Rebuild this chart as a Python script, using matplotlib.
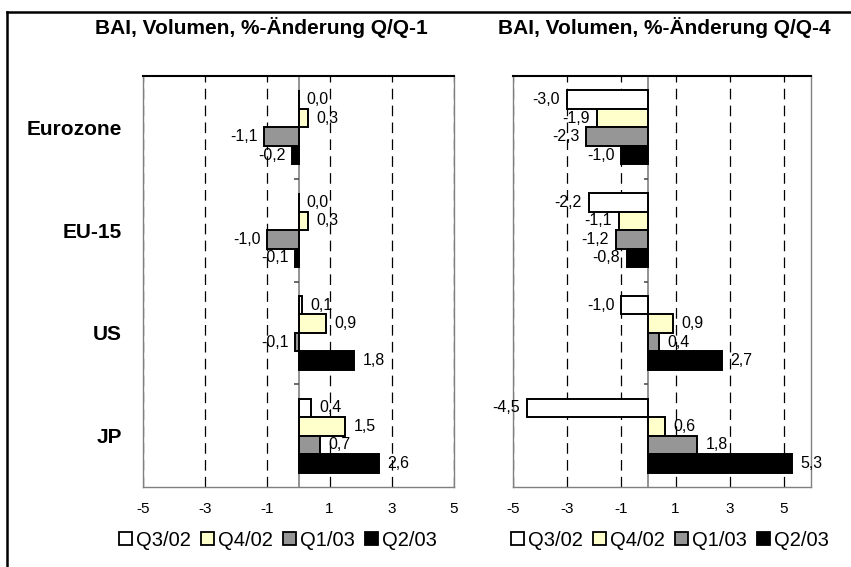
import matplotlib
matplotlib.use('Agg')
import matplotlib.pyplot as plt
from matplotlib.patches import Patch
from matplotlib.lines import Line2D

plt.rcParams['font.family'] = ['Liberation Sans', 'DejaVu Sans']

# Daten
laender = ['Eurozone', 'EU-15', 'US', 'JP']
quartale = ['Q3/02', 'Q4/02', 'Q1/03', 'Q2/03']
farben = ['#FFFFFF', '#FFFFCC', '#969696', '#000000']

# BAI, Volumen, %-Aenderung Q/Q-1 (je Land: Q3/02, Q4/02, Q1/03, Q2/03)
qq1_eurozone = [0.0, 0.3, -1.1, -0.2]
qq1_eu15 = [0.0, 0.3, -1.0, -0.1]
qq1_us = [0.1, 0.9, -0.1, 1.8]
qq1_jp = [0.4, 1.5, 0.7, 2.6]

# BAI, Volumen, %-Aenderung Q/Q-4
qq4_eurozone = [-3.0, -1.9, -2.3, -1.0]
qq4_eu15 = [-2.2, -1.1, -1.2, -0.8]
qq4_us = [-1.0, 0.9, 0.4, 2.7]
qq4_jp = [-4.5, 0.6, 1.8, 5.3]

x_ticks = [-5, -3, -1, 1, 3, 5]

W, H = 851, 567
fig = plt.figure(figsize=(W / 100, H / 100), dpi=100)


def zeichne(ax, werte, xmax, tick_len, mit_labels):
    bar_h = 0.18
    for i, land_werte in enumerate(werte):
        for j, v in enumerate(land_werte):
            y = i + 0.5 + (j - 1.5) * bar_h
            ax.barh(y, v, height=bar_h, left=0, color=farben[j],
                    edgecolor='black', linewidth=1.4, zorder=3)
            txt = ('%.1f' % v).replace('.', ',')
            if v >= 0:
                ax.annotate(txt, (v, y), xytext=(6, 0), textcoords='offset points',
                            ha='left', va='center', fontsize=11.5, zorder=4)
            else:
                ax.annotate(txt, (v, y), xytext=(-5, 0), textcoords='offset points',
                            ha='right', va='center', fontsize=11.5, zorder=4)

    ax.set_xlim(-5, xmax)
    ax.set_ylim(len(werte), 0)
    ax.set_xticks(x_ticks)
    ax.set_xticklabels([str(t) for t in x_ticks], fontsize=11)
    ax.tick_params(axis='x', length=0, pad=11)
    for t in x_ticks:
        ax.axvline(t, color='black', linewidth=0.9, dashes=(8.5, 5), zorder=1)
    ax.axvline(0, color='#808080', linewidth=1.2, zorder=2)
    # Trennstriche zwischen den Laendergruppen auf der Nullachse
    ax.hlines(range(1, len(werte)), -tick_len, 0, color='#505050', linewidth=1.2, zorder=2)

    if mit_labels:
        ax.set_yticks([i + 0.5 for i in range(len(werte))])
        ax.set_yticklabels(laender, fontsize=15, fontweight='bold')
        ax.tick_params(axis='y', length=0, pad=15)
    else:
        ax.set_yticks([])

    for s in ['left', 'right', 'bottom']:
        ax.spines[s].set_color('#808080')
        ax.spines[s].set_linewidth(1.0)
    ax.spines['top'].set_color('black')
    ax.spines['top'].set_linewidth(1.5)


ax1 = fig.add_axes([143 / W, 1 - 487 / H, 311 / W, 411 / H])
zeichne(ax1, [qq1_eurozone, qq1_eu15, qq1_us, qq1_jp], 5, 0.16, True)

ax2 = fig.add_axes([513 / W, 1 - 487 / H, 298 / W, 411 / H])
zeichne(ax2, [qq4_eurozone, qq4_eu15, qq4_us, qq4_jp], 6, 0.18, False)

fig.text(261 / W, 1 - 27 / H, 'BAI, Volumen, %-Änderung Q/Q-1',
         ha='center', va='center', fontsize=15, fontweight='bold')
fig.text(664 / W, 1 - 27 / H, 'BAI, Volumen, %-Änderung Q/Q-4',
         ha='center', va='center', fontsize=15, fontweight='bold')

handles = [Patch(facecolor=farben[j], edgecolor='black', linewidth=1.3, label=quartale[j])
           for j in range(4)]
for ax, cx in [(ax1, 0.434), (ax2, 0.527)]:
    ax.legend(handles=handles, loc='center', bbox_to_anchor=(cx, -0.129), ncol=4,
              frameon=False, fontsize=14.5, handlelength=0.65, handleheight=0.65,
              handletextpad=0.2, columnspacing=0.5, borderaxespad=0)

# Rahmen um die Grafik (links und oben sichtbar)
fig.add_artist(Line2D([7 / W, 7 / W], [0, 1 - 12 / H], color='black', linewidth=1.8,
                      transform=fig.transFigure))
fig.add_artist(Line2D([7 / W, 1], [1 - 12 / H, 1 - 12 / H], color='black', linewidth=1.8,
                      transform=fig.transFigure))

fig.savefig('out.png', dpi=100)
